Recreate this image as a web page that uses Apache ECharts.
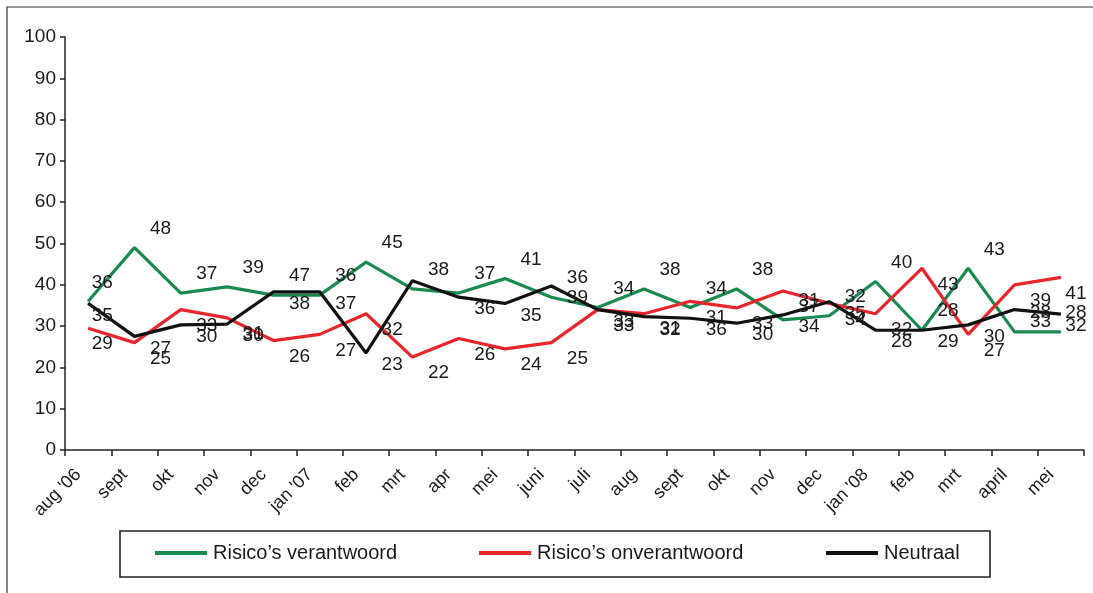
<!DOCTYPE html>
<html>
<head>
<meta charset="utf-8">
<script src="https://cdn.jsdelivr.net/npm/echarts@6/dist/echarts.min.js"></script>
<style>
html,body{margin:0;padding:0;background:#fff;}
#chart{width:1093px;height:593px;}
</style>
</head>
<body>
<div id="chart"></div>
<script>
const categories = ["aug '06","sept","okt","nov","dec","jan '07","feb","mrt","apr","mei","juni","juli","aug","sept","okt","nov","dec","jan '08","feb","mrt","april","mei"];
const yTicks = [0,10,20,30,40,50,60,70,80,90,100];

const verantwoord = [36,49,38,39.5,37.5,37.5,45.5,39,38,41.5,37,34.5,39,34.5,39,31.5,32.5,40.8,29,44,28.6,28.6];
const onverantwoord = [29.5,26,34,32,26.5,28,33,22.5,27,24.5,26,34,33,36,34.4,38.5,35.5,33,44,28,40,41.8];
const neutraal = [35.5,27.5,30.3,30.5,38.3,38.3,23.5,41,37,35.5,39.7,34,32.3,31.9,30.7,32.7,35.9,29,29,30.3,34,32.9];

const verantwoordLabels = ['36','48','37','39','47','36','45','38','37','41','36','34','38','34','38','31','32','40','28','43','28','28'];
const onverantwoordLabels = ['29','25','33','31','26','27','32','22','26','24','25','33','32','31','33','37','34','32','43','27','39','41'];
const neutraalLabels = ['35','27','30','30','38','37','23','','36','35','39','33','31','36','30','34','35','28','29','30','33','32'];

const seriesNames = ['Risico\u2019s verantwoord','Risico\u2019s onverantwoord','Neutraal'];
const colors = ['#1a8a50','#e8262c','#111111'];

const chart = echarts.init(document.getElementById('chart'));
const FONT = 'Liberation Sans, Arial, sans-serif';

function mkSeries(name, data, labels, color, dy) {
  const last = data.length - 1;
  const items = data.map(function(v, i){
    if (i === 0) return {value: v, label: {distance: 3}};
    if (i === last) return {value: v, label: {distance: 4}};
    return v;
  });
  return {
    name: name, type: 'line', data: items, color: color,
    symbol: 'circle', symbolSize: 1, showSymbol: true,
    itemStyle: {color: color},
    lineStyle: {width: 3.2, color: color},
    emphasis: {disabled: true},
    label: {
      show: true, position: 'right', distance: 15,
      color: '#1a1a1a', fontFamily: FONT, fontSize: 19,
      formatter: function(p){ return labels[p.dataIndex]; }
    },
    labelLayout: {dy: dy, hideOverlap: false}
  };
}

const option = {
  animation: false,
  backgroundColor: '#fff',
  grid: {left: 65, right: 9, top: 37, bottom: 143, containLabel: false},
  xAxis: {
    type: 'category', data: categories, boundaryGap: true,
    axisLine: {lineStyle: {color: '#222', width: 1.5}},
    axisTick: {show: true, length: 6, alignWithLabel: false, lineStyle: {color: '#222', width: 1.5}},
    axisLabel: {rotate: 45, interval: 0, margin: 12, padding: [0, 14, 0, 0], color: '#1a1a1a', fontFamily: FONT, fontSize: 18},
    splitLine: {show: false}
  },
  yAxis: {
    type: 'value', min: 0, max: 100, interval: 10,
    axisLine: {show: true, lineStyle: {color: '#222', width: 1.5}},
    axisTick: {show: true, length: 5, lineStyle: {color: '#222', width: 1.5}},
    axisLabel: {color: '#1a1a1a', fontFamily: FONT, fontSize: 19, margin: 9,
      formatter: function(v){ return yTicks.indexOf(v) >= 0 ? String(v) : ''; }},
    splitLine: {show: false}
  },
  legend: [0,1,2].map(function(i){
    const lefts = [155, 479, 826];
    return {
      data: [seriesNames[i]], left: lefts[i], top: 543, padding: 0,
      icon: 'rect', itemWidth: 52, itemHeight: 4, itemGap: 0,
      selectedMode: false,
      textStyle: {color: '#1a1a1a', fontFamily: FONT, fontSize: 20, padding: [0,0,0,1]}
    };
  }),
  graphic: [
    {type: 'rect', shape: {x: 7, y: 7, width: 1110, height: 620}, style: {fill: 'none', stroke: '#333', lineWidth: 1.2}, silent: true},
    {type: 'rect', shape: {x: 120, y: 531, width: 870, height: 46}, style: {fill: 'none', stroke: '#222', lineWidth: 1.6}, silent: true, z: 10}
  ],
  series: [
    mkSeries(seriesNames[0], verantwoord, verantwoordLabels, colors[0], -19),
    mkSeries(seriesNames[1], onverantwoord, onverantwoordLabels, colors[1], 16),
    mkSeries(seriesNames[2], neutraal, neutraalLabels, colors[2], 12)
  ]
};
chart.setOption(option);
</script>
</body>
</html>
